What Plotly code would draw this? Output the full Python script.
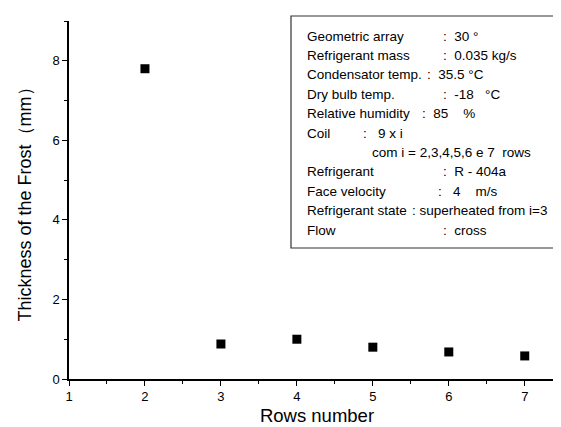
import plotly.graph_objects as go

# ---- data ----
rows = [2, 3, 4, 5, 6, 7]
thickness = [7.8, 0.88, 1.0, 0.8, 0.68, 0.58]

x_ticks = [1, 2, 3, 4, 5, 6, 7]
y_ticks = [0, 2, 4, 6, 8]

info_labels = ["Geometric array", "Refrigerant mass", "Condensator temp.", "Dry bulb temp.",
               "Relative humidity", "Coil", "", "Refrigerant", "Face velocity",
               "Refrigerant state", "Flow"]
info_values = [":  30 °", ":  0.035 kg/s", ":  35.5 °C", ":  -18   °C", ":  85    %",
               ":   9 x i", "com i = 2,3,4,5,6 e 7  rows", ":  R - 404a", ":   4    m/s",
               ": superheated from i=3", ":  cross"]
# horizontal offset (px) of the value column from the label column
value_offsets = [136, 136, 120, 136, 115, 56, 65, 136, 131, 105, 136]

# ---- layout geometry (pixels) ----
W, H = 561, 427
ML, MR, MT, MB = 61, 4, 13, 56
PW, PH = W - ML - MR, H - MT - MB

def px(xp):
    return (xp - ML) / PW

def py(yp):
    return (H - MB - yp) / PH

FONT = "Liberation Sans, Arial, sans-serif"

fig = go.Figure()
fig.add_trace(go.Scatter(
    x=rows, y=thickness, mode="markers",
    marker=dict(symbol="square", size=9, color="black"),
    showlegend=False, cliponaxis=False,
))

axis_common = dict(
    showline=True, linecolor="black", linewidth=1.5, mirror=False,
    ticks="outside", ticklen=5, tickwidth=1.2, tickcolor="black",
    showgrid=False, zeroline=False, automargin=False,
    tickfont=dict(family=FONT, size=13, color="black"),
)

fig.update_xaxes(
    range=[1, 7.53], tickvals=x_ticks, ticktext=[str(v) for v in x_ticks],
    minor=dict(dtick=0.5, tick0=1, ticks="outside", ticklen=3, tickwidth=1.2, tickcolor="black"),
    title=dict(text="Rows number", font=dict(family=FONT, size=18.5, color="black"), standoff=6),
    **axis_common,
)
fig.update_yaxes(
    range=[0, 9], tickvals=y_ticks, ticktext=[str(v) for v in y_ticks],
    minor=dict(dtick=1, tick0=0, ticks="outside", ticklen=3, tickwidth=1.2, tickcolor="black"),
    title=dict(text="Thickness of the Frost（mm）", font=dict(family=FONT, size=18, color="black"), standoff=16),
    **axis_common,
)

# info box
box_l, box_r, box_t, box_b = 283, 559, 8, 240
fig.add_shape(type="rect", xref="paper", yref="paper",
              x0=px(box_l), x1=px(box_r), y0=py(box_b), y1=py(box_t),
              line=dict(color="#333333", width=1.2), fillcolor="white", layer="above")

text_x = 297
line_y0 = 28
line_dy = 19.4
for i, (lab, val, off) in enumerate(zip(info_labels, info_values, value_offsets)):
    yy = py(line_y0 + i * line_dy)
    if lab:
        fig.add_annotation(x=px(text_x), y=yy, xref="paper", yref="paper",
                           text=lab.replace(" ", "\u00a0"), showarrow=False,
                           xanchor="left", yanchor="middle",
                           font=dict(family=FONT, size=13.5, color="black"))
    fig.add_annotation(x=px(text_x + off), y=yy, xref="paper", yref="paper",
                       text=val.replace(" ", "\u00a0"), showarrow=False,
                       xanchor="left", yanchor="middle",
                       font=dict(family=FONT, size=13.5, color="black"))

fig.update_layout(
    width=W, height=H,
    margin=dict(l=ML, r=MR, t=MT, b=MB, autoexpand=False),
    paper_bgcolor="white", plot_bgcolor="white",
    font=dict(family=FONT, color="black"),
)

fig.write_html("out.html")
